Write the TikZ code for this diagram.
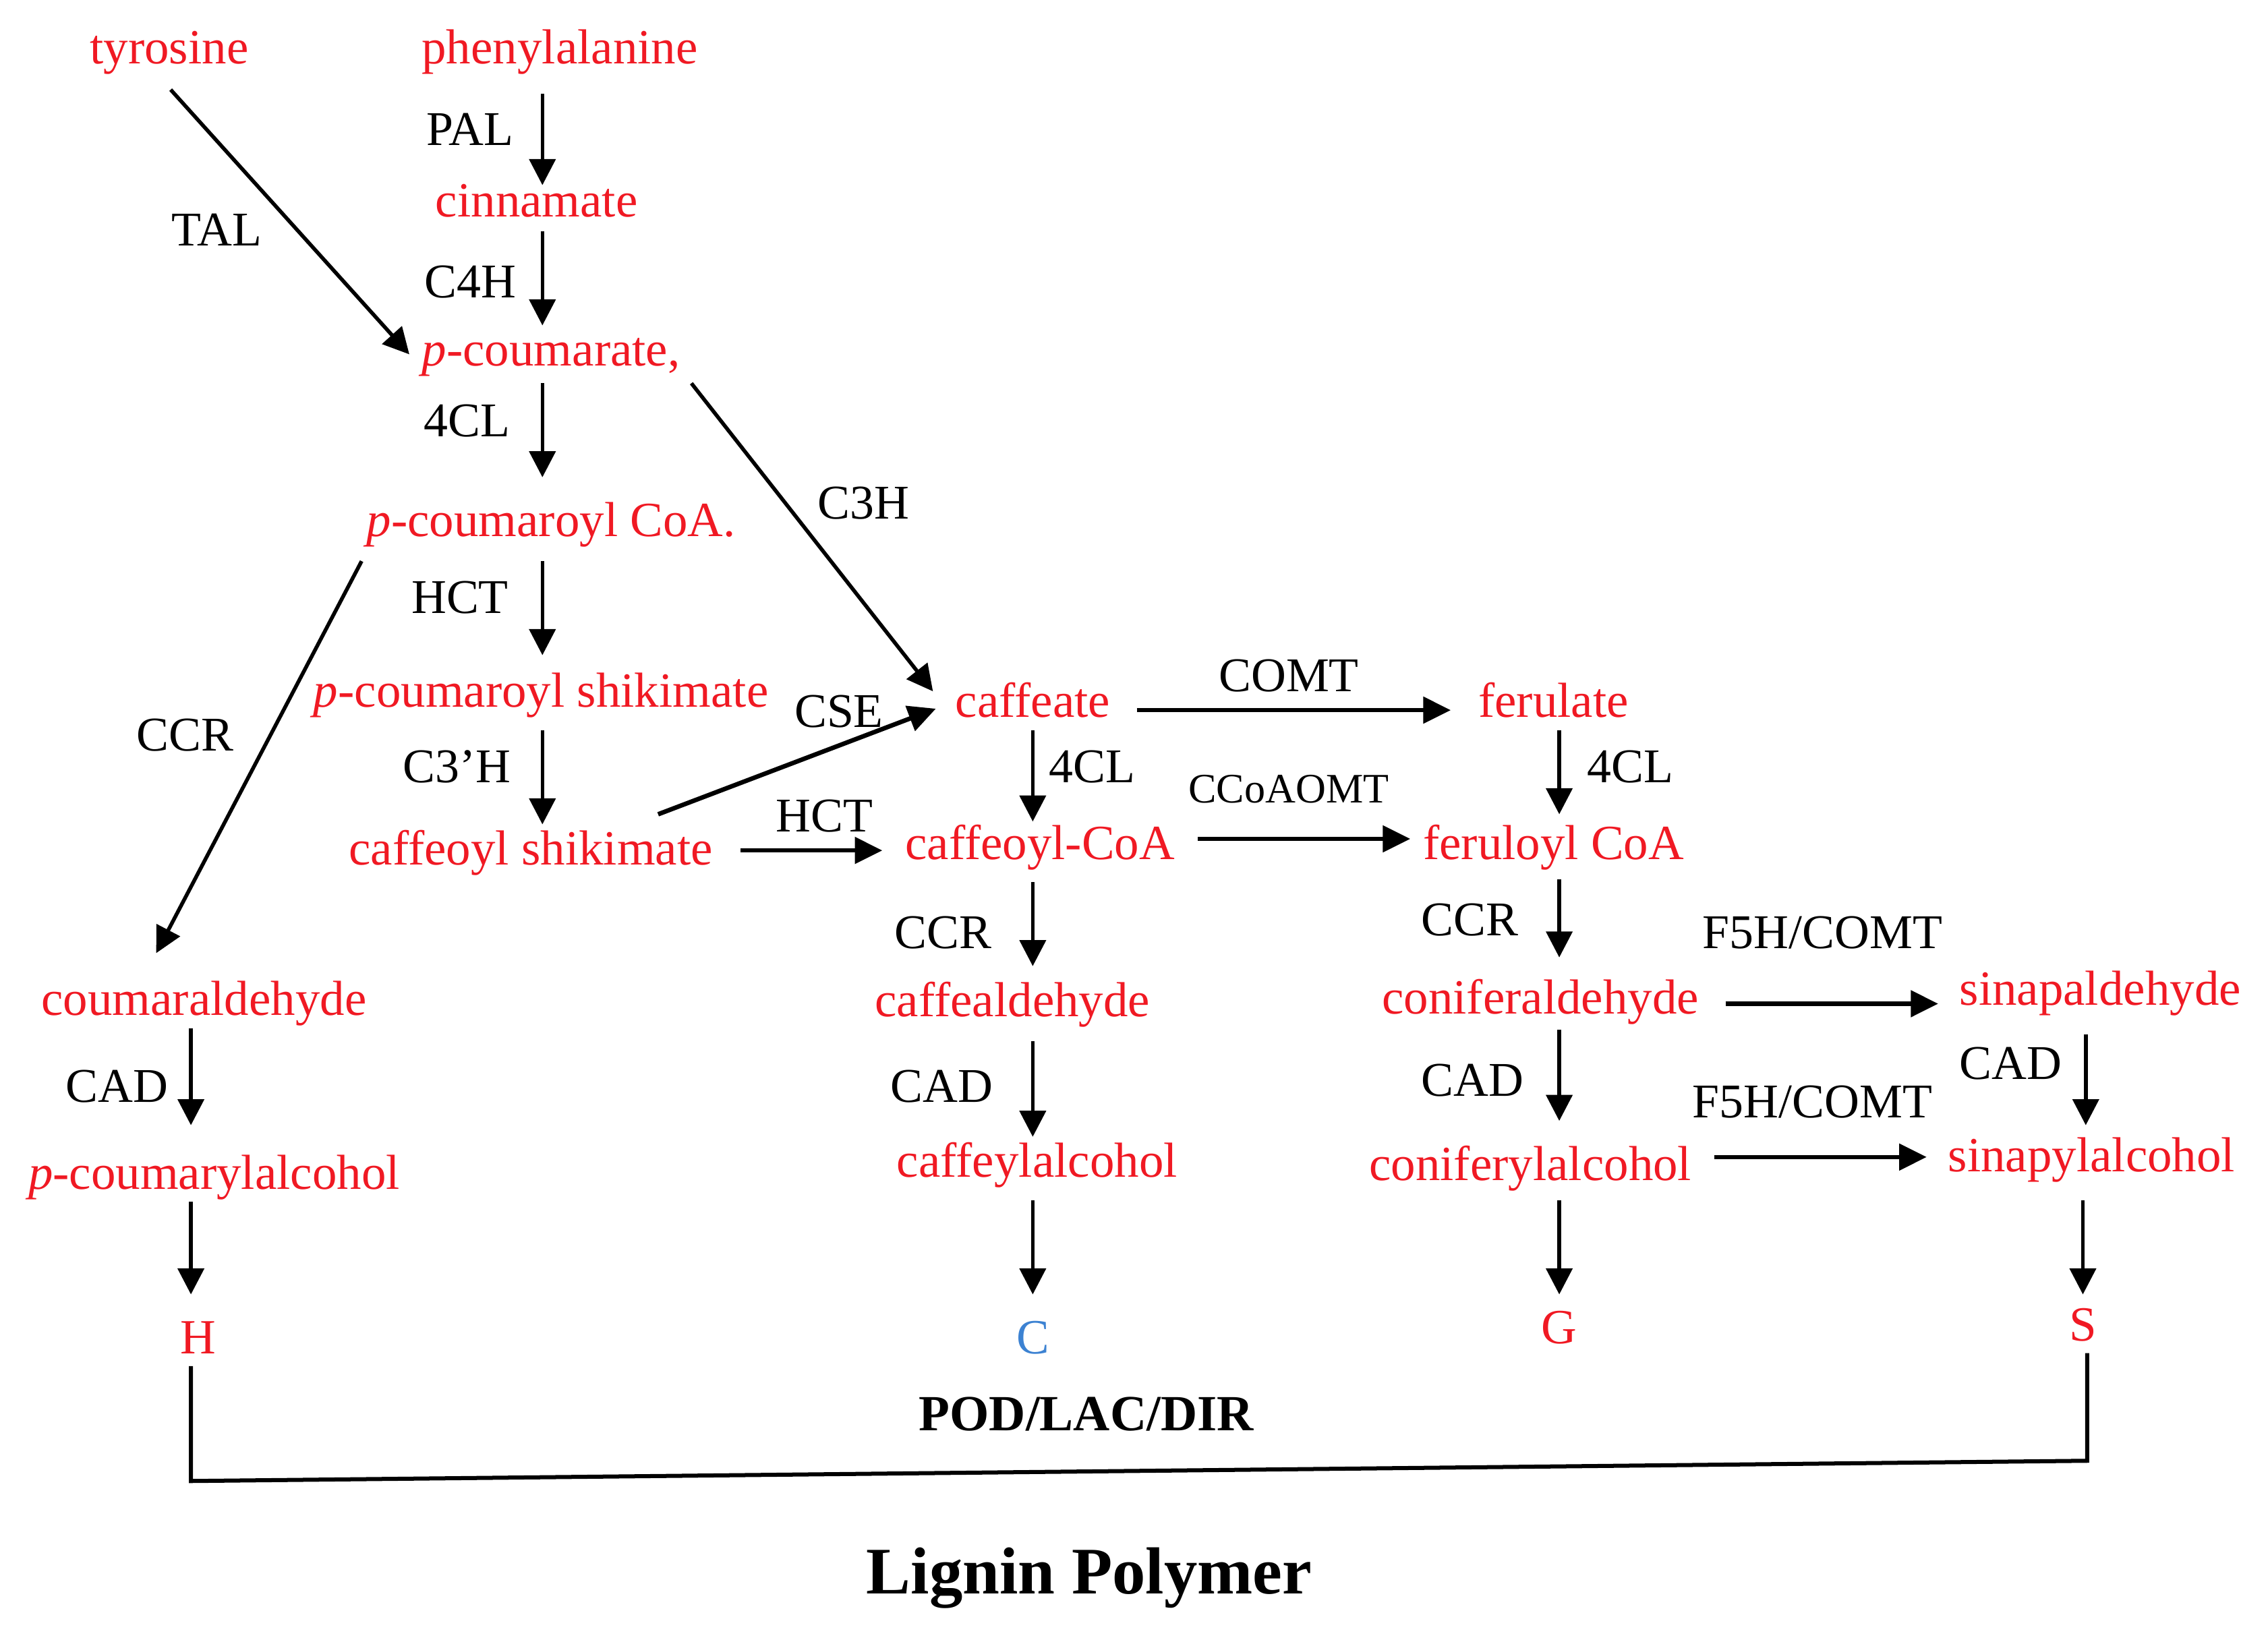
\documentclass[tikz,border=0pt]{standalone}
\usepackage{fontspec}
\setmainfont{Liberation Serif}
\usetikzlibrary{arrows.meta}
\definecolor{molred}{RGB}{240,25,35}
\definecolor{molblue}{RGB}{60,130,210}
\begin{document}
\begin{tikzpicture}[x=1pt,y=-1pt,
  mol/.style={text=molred,inner sep=0pt,anchor=base,font=\fontsize{34}{41}\selectfont},
  enz/.style={text=black,inner sep=0pt,anchor=base,font=\fontsize{33.5}{40}\selectfont},
  enzsmall/.style={text=black,inner sep=0pt,anchor=base,font=\fontsize{29}{34}\selectfont},
  boldlbl/.style={text=black,inner sep=0pt,anchor=base,font=\fontsize{35}{42}\selectfont\bfseries},
  titlelbl/.style={text=black,inner sep=0pt,anchor=base,font=\fontsize{46}{54}\selectfont\bfseries},
  arr/.style={line width=2.6pt,-{Triangle[length=18pt,width=18pt]}},
  harr/.style={line width=3.1pt,-{Triangle[length=19pt,width=18pt]}},
  joinline/.style={line width=2.8pt,line cap=rect}]
\path[use as bounding box,fill=white] (0,0) rectangle (1568,1135);
% molecules
\node[mol] (tyr) at (117,44) {tyrosine};
\node[mol] (phe) at (387,44) {phenylalanine};
\node[mol] (cin) at (371,150) {cinnamate};
\node[mol] (pcm) at (381,253) {\textit{p}-coumarate,};
\node[mol] (pcoa) at (381,371) {\textit{p}-coumaroyl CoA.};
\node[mol] (pcs) at (374,489) {\textit{p}-coumaroyl shikimate};
\node[mol] (cs) at (367,598) {caffeoyl shikimate};
\node[mol] (caf) at (714,496) {caffeate};
\node[mol] (fer) at (1074,496) {ferulate};
\node[mol] (cafcoa) at (719,594) {caffeoyl-CoA};
\node[mol] (fercoa) at (1074,594) {feruloyl CoA};
\node[mol] (cumal) at (141,702) {coumaraldehyde};
\node[mol] (cafal) at (700,703) {caffealdehyde};
\node[mol] (conal) at (1065,701) {coniferaldehyde};
\node[mol] (sinal) at (1452,695) {sinapaldehyde};
\node[mol] (pcol) at (148,822) {\textit{p}-coumarylalcohol};
\node[mol] (cafol) at (717,814) {caffeylalcohol};
\node[mol] (conol) at (1058,816) {coniferylalcohol};
\node[mol] (sinol) at (1446,810) {sinapylalcohol};
\node[mol] (H) at (137,936) {H};
\node[mol,text=molblue] (C) at (714,936) {C};
\node[mol] (G) at (1078,929) {G};
\node[mol] (S) at (1440,927) {S};
% enzymes
\node[enz] (pal) at (325,100.5) {PAL};
\node[enz] (c4h) at (325,206) {C4H};
\node[enz] (tal) at (150,170) {TAL};
\node[enz] (cl1) at (323,302) {4CL};
\node[enz] (c3h) at (597,359) {C3H};
\node[enz] (hct1) at (318,424) {HCT};
\node[enz] (ccr1) at (128,519) {CCR};
\node[enz] (c3ph) at (316,541) {C3’H};
\node[enz] (cse) at (580,503) {CSE};
\node[enz] (hct2) at (570,575) {HCT};
\node[enz] (comt) at (891,478) {COMT};
\node[enz] (cl2) at (755,541) {4CL};
\node[enzsmall] (ccoaomt) at (891,555) {CCoAOMT};
\node[enz] (cl3) at (1127,541) {4CL};
\node[enz] (ccr2) at (652,656) {CCR};
\node[enz] (ccr3) at (1016,647) {CCR};
\node[enz] (f5h1) at (1260,656) {F5H/COMT};
\node[enz] (cad1) at (81,762) {CAD};
\node[enz] (cad2) at (651,762) {CAD};
\node[enz] (cad3) at (1018,758) {CAD};
\node[enz] (cad4) at (1390,746) {CAD};
\node[enz] (f5h2) at (1253,773) {F5H/COMT};
\node[boldlbl] (pod) at (751,989) {POD/LAC/DIR};
\node[titlelbl] (lig) at (753,1102) {Lignin Polymer};
% arrows
\draw[arr] ([shift={(-12,21)}]phe.base) -- ([shift={(4,-22)}]cin.base);
\draw[arr] ([shift={(4,10)}]cin.base) -- ([shift={(-6,-28)}]pcm.base);
\draw[arr] ([shift={(1,18)}]tyr.base) -- ([shift={(-98,-8)}]pcm.base);
\draw[arr] ([shift={(-6,12)}]pcm.base) -- ([shift={(-6,-41)}]pcoa.base);
\draw[arr] ([shift={(97,12)}]pcm.base) -- ([shift={(-69,-18)}]caf.base);
\draw[arr] ([shift={(-6,17)}]pcoa.base) -- ([shift={(1,-36)}]pcs.base);
\draw[arr] ([shift={(-131,17)}]pcoa.base) -- ([shift={(-33,-43)}]cumal.base);
\draw[arr] ([shift={(1,16)}]pcs.base) -- ([shift={(8,-28)}]cs.base);
\draw[harr] ([shift={(88,-35)}]cs.base) -- ([shift={(-67,-6)}]caf.base);
\draw[harr] ([shift={(145,-10)}]cs.base) -- ([shift={(-109,-6)}]cafcoa.base);
\draw[harr] ([shift={(72,-5)}]caf.base) -- ([shift={(-71,-5)}]fer.base);
\draw[arr] ([shift={(0,9)}]caf.base) -- ([shift={(-5,-26)}]cafcoa.base);
\draw[arr] ([shift={(4,9)}]fer.base) -- ([shift={(4,-31)}]fercoa.base);
\draw[harr] ([shift={(109,-14)}]cafcoa.base) -- ([shift={(-99,-14)}]fercoa.base);
\draw[arr] ([shift={(-5,16)}]cafcoa.base) -- ([shift={(14,-35)}]cafal.base);
\draw[arr] ([shift={(14,17)}]cafal.base) -- ([shift={(-3,-28)}]cafol.base);
\draw[arr] ([shift={(-3,16)}]cafol.base) -- ([shift={(0,-41)}]C.base);
\draw[arr] ([shift={(4,14)}]fercoa.base) -- ([shift={(13,-39)}]conal.base);
\draw[arr] ([shift={(13,11)}]conal.base) -- ([shift={(20,-41)}]conol.base);
\draw[arr] ([shift={(20,14)}]conol.base) -- ([shift={(0,-34)}]G.base);
\draw[harr] ([shift={(128,-7)}]conal.base) -- ([shift={(-112,-1)}]sinal.base);
\draw[harr] ([shift={(127,-16)}]conol.base) -- ([shift={(-114,-10)}]sinol.base);
\draw[arr] ([shift={(-10,20)}]sinal.base) -- ([shift={(-4,-32)}]sinol.base);
\draw[arr] ([shift={(-6,20)}]sinol.base) -- ([shift={(0,-32)}]S.base);
\draw[arr] ([shift={(-9,9)}]cumal.base) -- ([shift={(-16,-44)}]pcol.base);
\draw[arr] ([shift={(-16,9)}]pcol.base) -- ([shift={(-5,-41)}]H.base);
% joining line to lignin
\draw[joinline] ([shift={(-5,10)}]H.base) -- ++(0,78) -- ++(1311,-14) -- ([shift={(3,10)}]S.base);
\end{tikzpicture}
\end{document}
